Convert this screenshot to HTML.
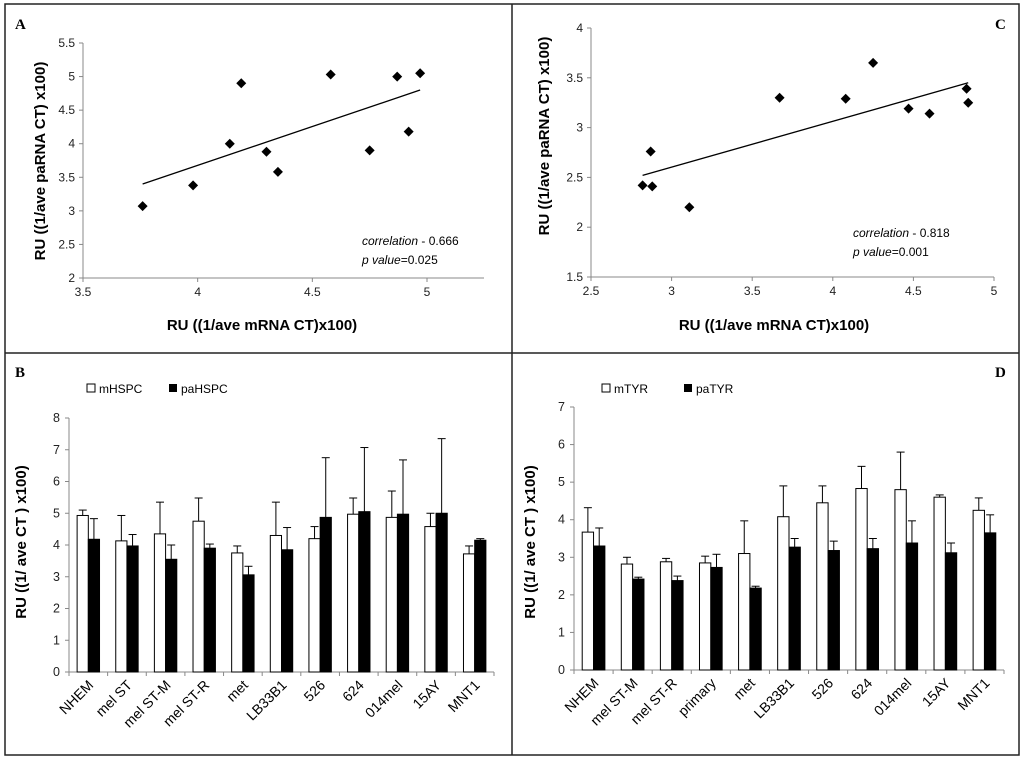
<!DOCTYPE html>
<html><head><meta charset="utf-8"><style>
body{margin:0;background:#fff}
svg{display:block;font-family:"Liberation Sans",sans-serif}
</style></head><body>
<svg id="s" width="1024" height="758" xmlns="http://www.w3.org/2000/svg">
<rect x="5" y="4" width="1014" height="751" fill="none" stroke="#222" stroke-width="1.5"/>
<line x1="512" y1="4" x2="512" y2="755" stroke="#222" stroke-width="1.5"/>
<line x1="5" y1="353" x2="1019" y2="353" stroke="#222" stroke-width="1.5"/>
<text x="15" y="29" font-family="Liberation Serif" font-weight="bold" font-size="15">A</text>
<text x="995" y="29" font-family="Liberation Serif" font-weight="bold" font-size="15">C</text>
<text x="15" y="377" font-family="Liberation Serif" font-weight="bold" font-size="15">B</text>
<text x="995" y="377" font-family="Liberation Serif" font-weight="bold" font-size="15">D</text>
</svg>
<script>
const NS="http://www.w3.org/2000/svg";
const svg=document.getElementById('s');
function el(t,a,p){const e=document.createElementNS(NS,t);for(const k in a)e.setAttribute(k,a[k]);(p||svg).appendChild(e);return e;}

// Panel A data
const aX=[3.76,3.98,4.14,4.19,4.30,4.35,4.58,4.75,4.87,4.92,4.97];
const aY=[3.07,3.38,4.0,4.9,3.88,3.58,5.03,3.9,5.0,4.18,5.05];
const aTrend=[[3.76,3.4],[4.97,4.8]];
const aXTicks=[3.5,4,4.5,5];
const aYTicks=[2,2.5,3,3.5,4,4.5,5,5.5];
// Panel C data
const cX=[2.82,2.87,2.88,3.11,3.67,4.08,4.25,4.47,4.60,4.83,4.84];
const cY=[2.42,2.76,2.41,2.20,3.30,3.29,3.65,3.19,3.14,3.39,3.25];
const cTrend=[[2.82,2.52],[4.84,3.45]];
const cXTicks=[2.5,3,3.5,4,4.5,5];
const cYTicks=[1.5,2,2.5,3,3.5,4];
// Panel B data
const bCats=["NHEM","mel ST","mel ST-M","mel ST-R","met","LB33B1","526","624","014mel","15AY","MNT1"];
const bM=[4.93,4.13,4.35,4.75,3.75,4.3,4.2,4.97,4.87,4.58,3.72];
const bMErr=[5.1,4.93,5.35,5.48,3.97,5.35,4.58,5.48,5.7,5.0,3.97];
const bP=[4.18,3.97,3.55,3.9,3.06,3.85,4.87,5.05,4.97,5.0,4.15];
const bPErr=[4.83,4.33,4.0,4.03,3.33,4.55,6.75,7.07,6.68,7.35,4.2];
const bYTicks=[0,1,2,3,4,5,6,7,8];
// Panel D data
const dCats=["NHEM","mel ST-M","mel ST-R","primary","met","LB33B1","526","624","014mel","15AY","MNT1"];
const dM=[3.67,2.82,2.88,2.85,3.1,4.08,4.45,4.83,4.8,4.6,4.25];
const dMErr=[4.32,3.0,2.97,3.03,3.97,4.9,4.9,5.42,5.8,4.66,4.58];
const dP=[3.3,2.42,2.38,2.73,2.18,3.27,3.18,3.23,3.38,3.12,3.65];
const dPErr=[3.78,2.47,2.5,3.08,2.23,3.5,3.43,3.5,3.97,3.38,4.13];
const dYTicks=[0,1,2,3,4,5,6,7];

function scatter(cfg){
  const g=el('g',{});
  
  
  const sx=v=>cfg.x0+(v-cfg.xmin)/(cfg.xmax-cfg.xmin)*(cfg.x1-cfg.x0);
  const sy=v=>cfg.y0-(v-cfg.ymin)/(cfg.ymax-cfg.ymin)*(cfg.y0-cfg.y1);
  const yax=el('line',{x1:cfg.x0,y1:cfg.y0,x2:cfg.x0,y2:sy(cfg.yt[cfg.yt.length-1]),stroke:'#888'},g);
  
  const xax=el('line',{x1:cfg.x0,y1:cfg.y0,x2:cfg.xend,y2:cfg.y0,stroke:'#888'},g);
  
  cfg.yt.forEach(v=>{el('line',{x1:cfg.x0-4,x2:cfg.x0,y1:sy(v),y2:sy(v),stroke:'#888'},g);
    const t=el('text',{x:cfg.x0-8,y:sy(v)+4,'text-anchor':'end','font-size':12,fill:'#222'},g);t.textContent=v;
    });
  cfg.xt.forEach(v=>{el('line',{x1:sx(v),x2:sx(v),y1:cfg.y0,y2:cfg.y0+4,stroke:'#888'},g);
    const t=el('text',{x:sx(v),y:cfg.y0+18,'text-anchor':'middle','font-size':12,fill:'#222'},g);t.textContent=v;
    });
  const tl=el('line',{x1:sx(cfg.tr[0][0]),y1:sy(cfg.tr[0][1]),x2:sx(cfg.tr[1][0]),y2:sy(cfg.tr[1][1]),stroke:'#000','stroke-width':1.3},g);
  
  cfg.xs.forEach((v,i)=>{const cx=sx(v),cy=sy(cfg.ys[i]);
    const p=el('polygon',{points:`${cx},${cy-5} ${cx+5},${cy} ${cx},${cy+5} ${cx-5},${cy}`,fill:'#000'},g);
    });
  const xt=el('text',{x:cfg.xtx,y:cfg.xty,'text-anchor':'middle','font-size':15,'font-weight':'bold'},g);
  xt.textContent='RU ((1/ave mRNA CT)x100)';
  const yt=el('text',{x:0,y:0,'text-anchor':'middle','font-size':15,'font-weight':'bold',transform:`translate(${cfg.ytx},${cfg.yty}) rotate(-90)`},g);
  yt.textContent='RU ((1/ave paRNA CT) x100)';
  const c1=el('text',{x:cfg.ax,y:cfg.ay,'font-size':12},g);
  c1.innerHTML='<tspan font-style="italic">correlation</tspan>  - '+cfg.corr;
  
  const c2=el('text',{x:cfg.ax,y:cfg.ay+19,'font-size':12},g);
  c2.innerHTML='<tspan font-style="italic">p value</tspan>='+cfg.p;
  
}
scatter({name:'panel-a-scatter',x0:83,x1:427,xend:484,xmin:3.5,xmax:5,y0:278,y1:43,ymin:2,ymax:5.5,xt:aXTicks,yt:aYTicks,xs:aX,ys:aY,tr:aTrend,
  xtx:262,xty:330,ytx:45,yty:161,ax:362,ay:245,corr:'0.666',p:'0.025'});
scatter({name:'panel-c-scatter',x0:591,x1:994,xend:994,xmin:2.5,xmax:5,y0:277,y1:28,ymin:1.5,ymax:4,xt:cXTicks,yt:cYTicks,xs:cX,ys:cY,tr:cTrend,
  xtx:774,xty:330,ytx:549,yty:136,ax:853,ay:237,corr:'0.818',p:'0.001'});

function bars(cfg){
  const g=el('g',{});
  
  const n=cfg.cats.length,gw=(cfg.x1-cfg.x0)/n;
  const sy=v=>cfg.y0-v/cfg.ymax*(cfg.y0-cfg.y1);
  const ya=el('line',{x1:cfg.x0,x2:cfg.x0,y1:cfg.y0,y2:cfg.y1,stroke:'#888'},g);
  
  const xa=el('line',{x1:cfg.x0,x2:cfg.x1,y1:cfg.y0,y2:cfg.y0,stroke:'#888'},g);
  
  cfg.yt.forEach(v=>{el('line',{x1:cfg.x0-4,x2:cfg.x0,y1:sy(v),y2:sy(v),stroke:'#888'},g);
    const t=el('text',{x:cfg.x0-9,y:sy(v)+4,'text-anchor':'end','font-size':12.5,fill:'#222'},g);t.textContent=v;
    });
  for(let i=0;i<=n;i++)el('line',{x1:cfg.x0+i*gw,x2:cfg.x0+i*gw,y1:cfg.y0,y2:cfg.y0+4,stroke:'#888'},g);
  const bw=gw*0.29;
  cfg.cats.forEach((c,i)=>{const cx=cfg.x0+(i+0.5)*gw;
    [[cfg.m,cfg.me,'#fff',cx-bw],[cfg.p,cfg.pe,'#000',cx]].forEach(([arr,err,f,x],k)=>{
      const top=sy(arr[i]),et=sy(err[i]);
      const e=el('line',{x1:x+bw/2,x2:x+bw/2,y1:top,y2:et,stroke:'#000'},g);
      
      el('line',{x1:x+bw/2-4,x2:x+bw/2+4,y1:et,y2:et,stroke:'#000'},g);
      const r=el('rect',{x:x,y:top,width:bw,height:cfg.y0-top,fill:f,stroke:'#000','stroke-width':1},g);
      
    });
    const t=el('text',{x:0,y:0,'text-anchor':'end','font-size':14,transform:`translate(${cx+6},${cfg.y0+14}) rotate(-45)`},g);
    t.textContent=c;
  });
  const yt=el('text',{x:0,y:0,'text-anchor':'middle','font-size':15,'font-weight':'bold',transform:`translate(${cfg.ytx},${cfg.yty}) rotate(-90)`},g);
  yt.textContent='RU ((1/ ave CT ) x100)';
  const l1=el('rect',{x:cfg.lx,y:cfg.ly-9,width:8,height:8,fill:'#fff',stroke:'#000'},g);
  
  const t1=el('text',{x:cfg.lx+12,y:cfg.ly,'font-size':12},g);t1.textContent=cfg.l[0];
  
  const l2=el('rect',{x:cfg.lx2,y:cfg.ly-9,width:8,height:8,fill:'#000'},g);
  
  const t2=el('text',{x:cfg.lx2+12,y:cfg.ly,'font-size':12},g);t2.textContent=cfg.l[1];
  
}
bars({name:'panel-b-bars',cats:bCats,m:bM,me:bMErr,p:bP,pe:bPErr,yt:bYTicks,ymax:8,x0:69,x1:494,y0:672,y1:418,ytx:26,yty:542,lx:87,lx2:169,ly:393,l:['mHSPC','paHSPC']});
bars({name:'panel-d-bars',cats:dCats,m:dM,me:dMErr,p:dP,pe:dPErr,yt:dYTicks,ymax:7,x0:574,x1:1004,y0:670,y1:407,ytx:535,yty:542,lx:602,lx2:684,ly:393,l:['mTYR','paTYR']});
</script>
</body></html>
